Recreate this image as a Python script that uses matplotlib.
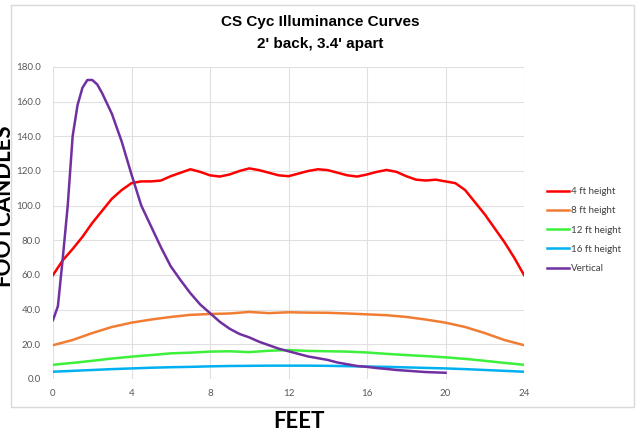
import matplotlib.pyplot as plt
from matplotlib.patches import Rectangle

# Data
feet_half = [i * 0.5 for i in range(49)]
ht4 = [60, 68.5, 75, 82, 90, 97, 104, 109, 113, 114, 114, 114.5, 117, 119, 121,
       119.5, 117.5, 116.8, 118, 120, 121.5, 120.5, 119, 117.5, 117, 118.5, 120,
       121, 120.5, 119, 117.5, 116.8, 118, 119.5, 120.6, 119.5, 117, 115, 114.5,
       115, 114, 113, 109, 102, 95, 87, 79, 70, 60]

feet = list(range(25))
ht8 = [19.5, 22.5, 26.5, 30, 32.5, 34.3, 35.8, 37, 37.5, 37.8, 38.7, 38, 38.5,
       38.3, 38.2, 37.8, 37.3, 36.8, 35.8, 34.3, 32.5, 30, 26.5, 22.5, 19.5]
ht12 = [8.2, 9.3, 10.5, 11.8, 12.9, 13.8, 14.8, 15.2, 15.8, 16, 15.5, 16.3, 16.7,
        16.2, 16, 15.8, 15.3, 14.5, 13.8, 13.2, 12.5, 11.6, 10.5, 9.3, 8.2]
ht16 = [4.2, 4.7, 5.2, 5.7, 6.1, 6.5, 6.8, 7.0, 7.3, 7.5, 7.6, 7.7, 7.7, 7.7,
        7.6, 7.4, 7.2, 7.0, 6.7, 6.4, 6.1, 5.7, 5.2, 4.7, 4.2]

vert_x = [0, 0.25, 0.5, 0.75, 1, 1.25, 1.5, 1.75, 2, 2.25, 2.5, 3, 3.5, 4, 4.5,
          5, 5.5, 6, 6.5, 7, 7.5, 8, 8.5, 9, 9.5, 10, 10.5, 11, 11.5, 12, 12.5,
          13, 13.5, 14, 14.5, 15, 15.5, 16, 16.5, 17, 17.5, 18, 18.5, 19, 19.5, 20]
vert = [34, 42, 70, 100, 140, 158, 168, 172.5, 172.5, 170, 165, 153, 137, 118,
        100, 88, 76, 65, 57, 49.5, 43, 38, 33, 29, 26, 24, 21.5, 19.5, 17.5, 16,
        14.5, 13, 12, 11, 9.5, 8.5, 7.5, 7, 6.3, 5.8, 5.2, 4.8, 4.4, 4, 3.8, 3.6]

fig = plt.figure(figsize=(6.4, 4.34), dpi=100)
ax = fig.add_axes([53 / 640, 55 / 434, 471 / 640, 312 / 434])

lw = 1.8
ax.plot(feet_half, ht4, color='#ff0000', lw=lw, label='4 ft height')
ax.plot(feet, ht8, color='#f07d32', lw=lw, label='8 ft height')
ax.plot(feet, ht12, color='#3cf03c', lw=lw, label='12 ft height')
ax.plot(feet, ht16, color='#00b0f0', lw=lw, label='16 ft height')
ax.plot(vert_x, vert, color='#7030a0', lw=lw, label='Vertical')

ax.set_xlim(0, 24)
ax.set_ylim(0, 180)
ax.set_xticks(range(0, 25, 4))
ax.set_yticks(range(0, 181, 20))
ax.set_yticklabels(['%.1f' % v for v in range(0, 181, 20)])
ax.grid(True, color='#e0e0e0', lw=0.8)
ax.set_axisbelow(True)
for s in ax.spines.values():
    s.set_visible(False)
ax.tick_params(length=0, labelsize=7, labelcolor='#595959')
ax.tick_params(axis='y', pad=9)
ax.tick_params(axis='x', pad=7)
for lab in ax.get_xticklabels() + ax.get_yticklabels():
    lab.set_family('Lato')

fig.text(0.5, 1 - 22 / 434, 'CS Cyc Illuminance Curves', ha='center', va='center',
         fontsize=11, fontweight='bold', family='Liberation Sans')
fig.text(0.5, 1 - 44 / 434, "2' back, 3.4' apart", ha='center', va='center',
         fontsize=11, fontweight='bold', family='Liberation Sans')

fig.text(299 / 640, 1 - 421 / 434, 'FEET', ha='center', va='center',
         fontsize=16, fontweight='bold', family='Lato')
# y label sits partly outside the image in the reference
fig.text(3 / 640, 1 - 205 / 434, 'FOOTCANDLES', ha='center', va='center',
         rotation=90, fontsize=16, fontweight='bold', family='Lato')

leg = ax.legend(loc='center left', bbox_to_anchor=(1.03, 0.477), frameon=False,
                prop={'family': 'Lato', 'size': 7}, handlelength=2.3,
                handletextpad=0.2, labelspacing=1.05)
for t in leg.get_texts():
    t.set_color('#404040')

fig.patches.append(Rectangle((11 / 640, 1 - 407 / 434), 623 / 640, 402 / 434,
                             transform=fig.transFigure, fill=False,
                             edgecolor='#d9d9d9', lw=1))

fig.savefig('out.png', dpi=100)
